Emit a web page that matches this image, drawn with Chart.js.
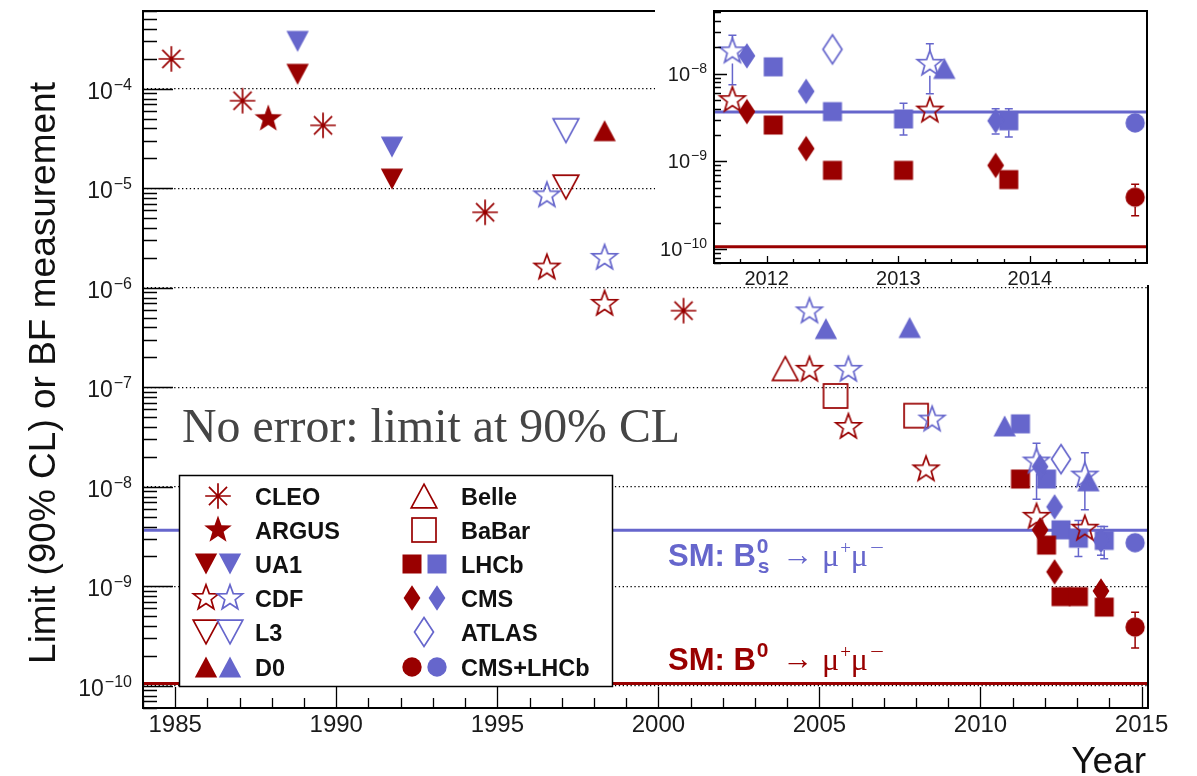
<!DOCTYPE html>
<html><head><meta charset="utf-8">
<script src="https://cdn.jsdelivr.net/npm/chart.js@4.4.1/dist/chart.umd.min.js"></script>
<style>
html,body{margin:0;padding:0;background:#fff;}
#wrap{position:relative;width:1197px;height:776px;overflow:hidden;background:#fff;}
#main{position:absolute;left:0;top:0;width:1197px;height:776px;}
#inset{position:absolute;left:655px;top:0;width:542px;height:292px;}
</style></head><body>
<div id="wrap"><canvas id="main" width="1197" height="776"></canvas><canvas id="inset" width="542" height="292"></canvas></div>
<script>
const RED = '#990000';
const BLUE = '#6666cc';
const SM_BS = 3.66e-9;
const SM_B0 = 1.06e-10;

const mainXTicks = [1985, 1990, 1995, 2000, 2005, 2010, 2015];
const mainYDecades = [-10, -9, -8, -7, -6, -5, -4];
const insetXTicks = [2012, 2013, 2014];
const insetYDecades = [-10, -9, -8];

// points: [year, value] or [year, value, upper, lower]
const CLEO_B0 = [[1984.88, 2.0e-4], [1987.09, 7.6e-5], [1989.59, 4.3e-5], [1994.62, 5.75e-6], [2000.78, 5.9e-7]];
const ARGUS_B0 = [[1987.89, 5.0e-5]];
const UA1_B0 = [[1988.80, 1.4e-4], [1991.73, 1.24e-5]];
const UA1_BS = [[1988.80, 3.0e-4], [1991.73, 2.6e-5]];
const CDF_B0 = [[1996.54, 1.6e-6], [1998.33, 6.9e-7], [2004.69, 1.5e-7], [2005.90, 4.0e-8], [2008.31, 1.5e-8], [2011.74, 5.0e-9], [2013.24, 3.8e-9]];
const CDF_BS = [[1996.54, 8.5e-6], [1998.33, 2.0e-6], [2004.69, 5.8e-7], [2005.90, 1.5e-7], [2008.50, 4.75e-8], [2011.74, 1.8e-8, 2.75e-8, 7.5e-9], [2013.24, 1.3e-8, 2.2e-8, 5.9e-9]];
const L3_B0 = [[1997.13, 1.03e-5]];
const L3_BS = [[1997.13, 3.8e-5]];
const D0_B0 = [[1998.33, 3.8e-5]];
const D0_BS = [[2005.20, 3.9e-7], [2007.80, 4.0e-7], [2010.75, 4.1e-8], [2013.35, 1.15e-8]];
const BELLE_B0 = [[2003.94, 1.55e-7]];
const BABAR_B0 = [[2005.50, 8.2e-8], [2008.00, 5.2e-8]];
const LHCB_B0 = [[2011.24, 1.2e-8], [2012.05, 2.6e-9], [2012.50, 7.9e-10], [2013.04, 7.9e-10], [2013.84, 6.2e-10]];
const LHCB_BS = [[2011.24, 4.3e-8], [2012.05, 1.2e-8], [2012.50, 3.7e-9], [2013.04, 3.05e-9, 4.6e-9, 2.0e-9], [2013.84, 2.9e-9, 4.0e-9, 1.9e-9]];
const CMS_B0 = [[2011.85, 3.7e-9], [2012.30, 1.4e-9], [2013.74, 9.0e-10]];
const CMS_BS = [[2011.85, 1.6e-8], [2012.30, 6.3e-9], [2013.74, 2.9e-9, 4.0e-9, 2.06e-9]];
const ATLAS_BS = [[2012.50, 1.9e-8]];
const CMSLHCB_B0 = [[2014.80, 3.9e-10, 5.5e-10, 2.4e-10]];
const CMSLHCB_BS = [[2014.80, 2.75e-9]];

const SANS = '"Liberation Sans", Arial, Helvetica, sans-serif';
const SERIF = '"Liberation Serif", "Times New Roman", serif';

function marker(shape, color) {
  const S = 36, c = document.createElement('canvas');
  c.width = S; c.height = S;
  const g = c.getContext('2d');
  g.translate(S / 2, S / 2);
  g.fillStyle = color; g.strokeStyle = color; g.lineWidth = 1.7; g.lineJoin = 'miter';
  const poly = (pts, fill) => {
    g.beginPath();
    pts.forEach((p, i) => i ? g.lineTo(p[0], p[1]) : g.moveTo(p[0], p[1]));
    g.closePath(); fill ? g.fill() : g.stroke();
  };
  const star = (R, r) => {
    const pts = [];
    for (let i = 0; i < 10; i++) {
      const a = -Math.PI / 2 + i * Math.PI / 5, rr = i % 2 ? r : R;
      pts.push([rr * Math.cos(a), rr * Math.sin(a)]);
    }
    return pts;
  };
  switch (shape) {
    case 'asterisk': {
      const R = 12.8; g.beginPath();
      for (let k = 0; k < 4; k++) {
        const a = k * Math.PI / 4;
        g.moveTo(-R * Math.cos(a), -R * Math.sin(a)); g.lineTo(R * Math.cos(a), R * Math.sin(a));
      }
      g.stroke(); break;
    }
    case 'fstar': poly(star(14.5, 5.9), true); break;
    case 'ostar': poly(star(13.3, 5.5), false); break;
    case 'tri': poly([[0, -10.5], [11.2, 10.5], [-11.2, 10.5]], true); break;
    case 'tridown': poly([[0, 10.5], [11.2, -10.5], [-11.2, -10.5]], true); break;
    case 'otri': poly([[0, -11.8], [12.8, 11.8], [-12.8, 11.8]], false); break;
    case 'otridown': poly([[0, 11.8], [12.8, -11.8], [-12.8, -11.8]], false); break;
    case 'sq': g.fillRect(-9.5, -9.5, 19, 19); break;
    case 'osq': g.strokeRect(-12, -12, 24, 24); break;
    case 'dia': poly([[0, -12.8], [8.4, 0], [0, 12.8], [-8.4, 0]], true); break;
    case 'odia': poly([[0, -14.5], [9.5, 0], [0, 14.5], [-9.5, 0]], false); break;
    case 'circ': g.beginPath(); g.arc(0, 0, 9.7, 0, 2 * Math.PI); g.fill(); break;
  }
  return c;
}
const GAP = {asterisk: 12, fstar: 13, ostar: 12, tri: 10.5, tridown: 10.5, otri: 11.8, otridown: 11.8, sq: 9.5, osq: 12, dia: 12.8, odia: 14.5, circ: 9.7};

const SERIES = [
  {pts: CMSLHCB_B0, shape: 'circ', color: RED},
  {pts: CMSLHCB_BS, shape: 'circ', color: BLUE},
  {pts: CDF_B0, shape: 'ostar', color: RED},
  {pts: CDF_BS, shape: 'ostar', color: BLUE},
  {pts: CMS_B0, shape: 'dia', color: RED},
  {pts: CMS_BS, shape: 'dia', color: BLUE},
  {pts: LHCB_B0, shape: 'sq', color: RED},
  {pts: LHCB_BS, shape: 'sq', color: BLUE},
  {pts: ATLAS_BS, shape: 'odia', color: BLUE},
  {pts: D0_B0, shape: 'tri', color: RED},
  {pts: D0_BS, shape: 'tri', color: BLUE},
  {pts: L3_B0, shape: 'otridown', color: RED},
  {pts: L3_BS, shape: 'otridown', color: BLUE},
  {pts: UA1_B0, shape: 'tridown', color: RED},
  {pts: UA1_BS, shape: 'tridown', color: BLUE},
  {pts: BELLE_B0, shape: 'otri', color: RED},
  {pts: BABAR_B0, shape: 'osq', color: RED},
  {pts: ARGUS_B0, shape: 'fstar', color: RED},
  {pts: CLEO_B0, shape: 'asterisk', color: RED}
];

const LEGEND_COL1 = [
  ['CLEO', [['asterisk', RED]]], ['ARGUS', [['fstar', RED]]], ['UA1', [['tridown', RED], ['tridown', BLUE]]],
  ['CDF', [['ostar', RED], ['ostar', BLUE]]], ['L3', [['otridown', RED], ['otridown', BLUE]]], ['D0', [['tri', RED], ['tri', BLUE]]]
];
const LEGEND_COL2 = [
  ['Belle', [['otri', RED]]], ['BaBar', [['osq', RED]]], ['LHCb', [['sq', RED], ['sq', BLUE]]],
  ['CMS', [['dia', RED], ['dia', BLUE]]], ['ATLAS', [['odia', BLUE]]], ['CMS+LHCb', [['circ', RED], ['circ', BLUE]]]
];

const markerCache = {};
function getMarker(shape, color) {
  const k = shape + color;
  if (!markerCache[k]) markerCache[k] = marker(shape, color);
  return markerCache[k];
}

function buildDatasets(xmin, xmax) {
  const ds = SERIES.map((s, i) => ({
    type: 'scatter',
    data: s.pts.map(p => ({x: p[0], y: p[1], hi: p[2], lo: p[3]})),
    pointStyle: getMarker(s.shape, s.color),
    pointRadius: 10, pointHoverRadius: 10,
    errColor: s.color, gap: GAP[s.shape],
    order: i, clip: 0
  }));
  [[SM_BS, BLUE], [SM_B0, RED]].forEach(([v, c]) => ds.push({
    type: 'line', data: [{x: xmin, y: v}, {x: xmax, y: v}],
    borderColor: c, borderWidth: 3, pointRadius: 0, order: 100, clip: 0
  }));
  return ds;
}

const errorBars = {
  id: 'errorBars',
  beforeDatasetsDraw(chart) {
    const {ctx, chartArea: a, scales: {x, y}} = chart;
    ctx.save();
    ctx.beginPath(); ctx.rect(a.left, a.top, a.right - a.left, a.bottom - a.top); ctx.clip();
    ctx.lineWidth = 1.5;
    chart.data.datasets.forEach(ds => {
      if (!ds.errColor) return;
      ds.data.forEach(p => {
        if (p.hi === undefined) return;
        const px = x.getPixelForValue(p.x), py = y.getPixelForValue(p.y);
        const ph = y.getPixelForValue(p.hi), pl = y.getPixelForValue(p.lo);
        ctx.strokeStyle = ds.errColor;
        ctx.beginPath();
        if (ph < py - ds.gap) { ctx.moveTo(px, ph); ctx.lineTo(px, py - ds.gap); }
        if (pl > py + ds.gap) { ctx.moveTo(px, py + ds.gap); ctx.lineTo(px, pl); }
        ctx.moveTo(px - 4, ph); ctx.lineTo(px + 4, ph);
        ctx.moveTo(px - 4, pl); ctx.lineTo(px + 4, pl);
        ctx.stroke();
      });
    });
    ctx.restore();
  }
};

function drawPow(ctx, exp, xRight, yc, big, small, baseOff, supRaise) {
  const base = '10', sup = '\u2212' + Math.abs(exp);
  ctx.font = big + 'px ' + SANS; const wb = ctx.measureText(base).width;
  ctx.font = small + 'px ' + SANS; const ws = ctx.measureText(sup).width;
  const x0 = xRight - ws - wb - 1;
  ctx.fillStyle = '#1a1a1a'; ctx.textAlign = 'left'; ctx.textBaseline = 'alphabetic';
  ctx.font = big + 'px ' + SANS; ctx.fillText(base, x0, yc + baseOff);
  ctx.font = small + 'px ' + SANS; ctx.fillText(sup, x0 + wb + 1, yc + baseOff - supRaise);
}

function frameAndTicks(cfg) {
  return {
    id: 'frameAndTicks',
    afterDraw(chart) {
      const {ctx, chartArea: a, scales: {x, y}} = chart;
      ctx.save();
      ctx.strokeStyle = '#000'; ctx.lineWidth = 1.3;
      ctx.beginPath();
      for (let e = cfg.eMin; e <= cfg.eMax; e++) {
        for (let m = 1; m <= 9; m++) {
          const v = m * Math.pow(10, e);
          if (v < y.min || v > y.max) continue;
          const py = Math.round(y.getPixelForValue(v)) + 0.5;
          const len = m === 1 ? cfg.yMaj : cfg.yMin;
          ctx.moveTo(a.left, py); ctx.lineTo(a.left + len, py);
        }
      }
      for (let k = Math.ceil(x.min * cfg.xDiv); k <= Math.floor(x.max * cfg.xDiv); k++) {
        const v = k / cfg.xDiv;
        const px = Math.round(x.getPixelForValue(v)) + 0.5;
        const len = (k % (cfg.xDiv * cfg.xMajEvery) === 0) ? cfg.xMaj : cfg.xMin;
        ctx.moveTo(px, a.bottom); ctx.lineTo(px, a.bottom - len);
      }
      ctx.stroke();
      ctx.lineWidth = 2;
      ctx.strokeRect(a.left, a.top, a.right - a.left, a.bottom - a.top);
      cfg.decades.forEach(e => {
        const v = Math.pow(10, e);
        if (v < y.min || v > y.max) return;
        drawPow(ctx, e, a.left - cfg.labGap, y.getPixelForValue(v), cfg.big, cfg.small, cfg.baseOff, cfg.supRaise);
      });
      ctx.restore();
    }
  };
}

function fitText(ctx, s, x, y, width) {
  const w = ctx.measureText(s).width;
  ctx.save(); ctx.translate(x, y); ctx.scale(width / w, 1); ctx.fillText(s, 0, 0); ctx.restore();
}

const annotations = {
  id: 'annotations',
  afterDraw(chart) {
    const ctx = chart.ctx;
    ctx.save();
    // legend box
    const L = 179.5, T = 475.5, W = 433, H = 211;
    ctx.fillStyle = '#fff'; ctx.fillRect(L, T, W, H);
    ctx.strokeStyle = '#000'; ctx.lineWidth = 1.5; ctx.strokeRect(L, T, W, H);
    const rows = [496, 530, 564, 598, 632, 667];
    const cols = [{entries: LEGEND_COL1, single: 218, pair: [206, 230], text: 255},
                  {entries: LEGEND_COL2, single: 424, pair: [412, 437], text: 461}];
    ctx.font = 'bold 23.5px ' + SANS; ctx.fillStyle = '#111'; ctx.textBaseline = 'alphabetic'; ctx.textAlign = 'left';
    cols.forEach(col => col.entries.forEach((en, i) => {
      const yy = rows[i];
      const ms = en[1];
      const xs = ms.length === 1 ? [col.single] : col.pair;
      ms.forEach((m, j) => { const im = getMarker(m[0], m[1]); ctx.drawImage(im, xs[j] - im.width / 2, yy - im.height / 2); });
      ctx.fillText(en[0], col.text, yy + 8.5);
    }));
    // No error text
    ctx.font = '48px ' + SERIF; ctx.fillStyle = '#454545';
    fitText(ctx, 'No error: limit at 90% CL', 182, 442, 498);
    // SM labels
    const smLabel = (color, baseY, sub) => {
      ctx.fillStyle = color;
      ctx.font = 'bold 31px ' + SANS;
      ctx.fillText('SM: B', 668, baseY);
      const wB = ctx.measureText('SM: B').width;
      ctx.font = 'bold 21px ' + SANS;
      ctx.fillText('0', 668 + wB + 1, baseY - 13);
      if (sub) ctx.fillText('s', 668 + wB + 2, baseY + 7);
      ctx.font = '32px ' + SERIF;
      fitText(ctx, '\u2192', 782, baseY - 1, 31);
      let xx = 822;
      ctx.fillText('\u03bc', xx, baseY); xx += ctx.measureText('\u03bc').width + 1;
      ctx.font = '19px ' + SERIF;
      ctx.fillText('+', xx, baseY - 12); xx += ctx.measureText('+').width;
      ctx.font = '32px ' + SERIF;
      ctx.fillText('\u03bc', xx, baseY); xx += ctx.measureText('\u03bc').width + 2;
      ctx.font = '19px ' + SERIF;
      fitText(ctx, '\u2212', xx, baseY - 12, 14);
    };
    smLabel(BLUE, 566, true);
    smLabel(RED, 670, false);
    // axis titles
    ctx.fillStyle = '#111';
    ctx.font = '37px ' + SANS; ctx.textAlign = 'right';
    ctx.fillText('Year', 1146, 773);
    ctx.save();
    ctx.translate(55, 373); ctx.rotate(-Math.PI / 2);
    ctx.textAlign = 'center'; ctx.font = '37px ' + SANS;
    ctx.fillText('Limit (90% CL) or BF measurement', 0, 0);
    ctx.restore();
    ctx.restore();
  }
};

const MAIN_XMIN = 1984.0, MAIN_XMAX = 2015.2, MAIN_YMIN = 6.0e-11, MAIN_YMAX = 6.06e-4;
const INS_XMIN = 2011.6, INS_XMAX = 2014.89, INS_YMIN = 6.93e-11, INS_YMAX = 5.2e-8;

new Chart(document.getElementById('main'), {
  data: {datasets: buildDatasets(MAIN_XMIN, MAIN_XMAX)},
  options: {
    responsive: false, animation: false, devicePixelRatio: 1,
    layout: {padding: {left: 0, right: 49, top: 10, bottom: 0}},
    plugins: {legend: {display: false}, tooltip: {enabled: false}},
    scales: {
      x: {
        type: 'linear', min: MAIN_XMIN, max: MAIN_XMAX,
        afterFit: s => { s.height = 68; },
        afterBuildTicks: s => { s.ticks = mainXTicks.map(v => ({value: v})); },
        grid: {display: false, drawTicks: false}, border: {display: false},
        ticks: {font: {family: SANS, size: 24}, color: '#1a1a1a', padding: 3, maxRotation: 0, autoSkip: false, callback: v => String(v)}
      },
      y: {
        type: 'logarithmic', min: MAIN_YMIN, max: MAIN_YMAX,
        afterFit: s => { s.width = 143; },
        afterBuildTicks: s => { s.ticks = mainYDecades.map(e => ({value: Math.pow(10, e)})); },
        grid: {color: '#000', lineWidth: 1.2, drawTicks: false},
        border: {display: false, dash: [1.3, 2.6]},
        ticks: {display: false}
      }
    }
  },
  plugins: [errorBars, frameAndTicks({eMin: -11, eMax: -4, yMaj: 30, yMin: 14, xDiv: 1, xMajEvery: 5, xMaj: 21, xMin: 10,
    decades: mainYDecades, labGap: 11, big: 23, small: 16, baseOff: 10, supRaise: 9}), annotations]
});

const insetPad = {
  id: 'insetPad',
  beforeDraw(chart) { const c = chart.ctx; c.save(); c.fillStyle = '#fff'; c.fillRect(0, 0, 542, 285); c.restore(); }
};

new Chart(document.getElementById('inset'), {
  data: {datasets: buildDatasets(INS_XMIN, INS_XMAX)},
  options: {
    responsive: false, animation: false, devicePixelRatio: 1,
    layout: {padding: {left: 0, right: 50, top: 10, bottom: 0}},
    plugins: {legend: {display: false}, tooltip: {enabled: false}},
    scales: {
      x: {
        type: 'linear', min: INS_XMIN, max: INS_XMAX,
        afterFit: s => { s.height = 29; },
        afterBuildTicks: s => { s.ticks = insetXTicks.map(v => ({value: v})); },
        grid: {display: false, drawTicks: false}, border: {display: false},
        ticks: {font: {family: SANS, size: 20}, color: '#1a1a1a', padding: 4, maxRotation: 0, autoSkip: false, callback: v => String(v)}
      },
      y: {
        type: 'logarithmic', min: INS_YMIN, max: INS_YMAX,
        afterFit: s => { s.width = 59; },
        afterBuildTicks: s => { s.ticks = insetYDecades.map(e => ({value: Math.pow(10, e)})); },
        grid: {display: false, drawTicks: false}, border: {display: false},
        ticks: {display: false}
      }
    }
  },
  plugins: [insetPad, errorBars, frameAndTicks({eMin: -11, eMax: -8, yMaj: 13, yMin: 7, xDiv: 5, xMajEvery: 1, xMaj: 7, xMin: 4,
    decades: insetYDecades, labGap: 7, big: 20, small: 14, baseOff: 7, supRaise: 8})]
});
</script></body></html>
